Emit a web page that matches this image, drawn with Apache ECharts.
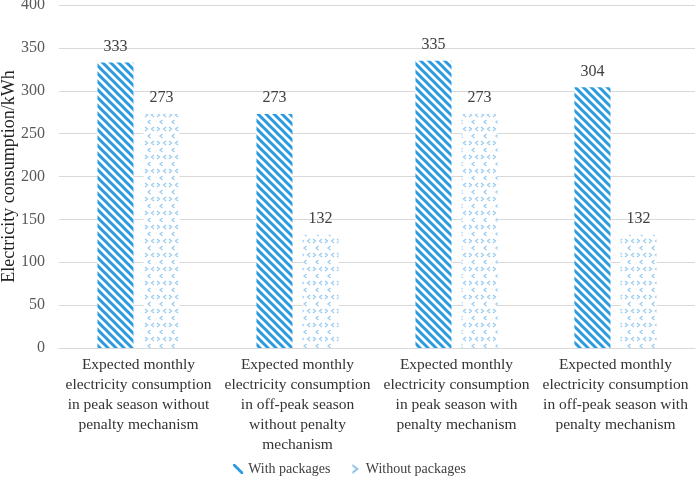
<!DOCTYPE html>
<html>
<head>
<meta charset="utf-8">
<script src="https://cdn.jsdelivr.net/npm/echarts@6/dist/echarts.min.js"></script>
<style>
html,body{margin:0;padding:0;background:#fff;}
#main{width:699px;height:482px;}
</style>
</head>
<body>
<div id="main"></div>
<script>
var categories = [
    'Expected monthly\nelectricity consumption\nin peak season without\npenalty mechanism',
    'Expected monthly\nelectricity consumption\nin off-peak season\nwithout penalty\nmechanism',
    'Expected monthly\nelectricity consumption\nin peak season with\npenalty mechanism',
    'Expected monthly\nelectricity consumption\nin off-peak season with\npenalty mechanism'
];
var withPackages = [333, 273, 335, 304];
var withoutPackages = [273, 132, 273, 132];
var yTicks = [0, 50, 100, 150, 200, 250, 300, 350, 400];

/*斜线填充*/
function stripePattern() {
    var c = document.createElement('canvas');
    c.width = 8; c.height = 8;
    var ctx = c.getContext('2d');
    ctx.fillStyle = '#fff';
    ctx.fillRect(0, 0, 8, 8);
    ctx.strokeStyle = '#2b9ae0';
    ctx.lineWidth = 3;
    ctx.beginPath();
    ctx.moveTo(-2, -2); ctx.lineTo(10, 10);
    ctx.moveTo(-2, 6); ctx.lineTo(2, 10);
    ctx.moveTo(6, -2); ctx.lineTo(10, 2);
    ctx.stroke();
    return c;
}
/*小箭头填充*/
function chevronPattern() {
    var c = document.createElement('canvas');
    c.width = 12; c.height = 14;
    var ctx = c.getContext('2d');
    ctx.fillStyle = '#fff';
    ctx.fillRect(0, 0, 12, 14);
    ctx.strokeStyle = '#95c9ef';
    ctx.lineWidth = 1.2;
    ctx.beginPath();
    ctx.moveTo(1, 1); ctx.lineTo(3.5, 3); ctx.lineTo(1, 5);
    ctx.moveTo(10, 1); ctx.lineTo(7.5, 3); ctx.lineTo(10, 5);
    ctx.moveTo(6.5, 8); ctx.lineTo(4, 10); ctx.lineTo(6.5, 12);
    ctx.stroke();
    return c;
}

var chart = echarts.init(document.getElementById('main'));
var labelStyle = {show: true, position: 'top', distance: 8, fontFamily: 'Liberation Serif', fontSize: 16, color: '#404040'};
var option = {
    animation: false,
    grid: {left: 59, right: 4, top: 5, bottom: 134, outerBoundsMode: 'none', containLabel: false},
    legend: {
        bottom: 1,
        left: 'center',
        itemWidth: 10,
        itemHeight: 10,
        itemGap: 22,
        textStyle: {fontFamily: 'Liberation Serif', fontSize: 14, color: '#404040'},
        data: [
            {name: 'With packages', icon: 'path://M0,0 L2,0 L10,8 L10,10 L8,10 L0,2 Z', itemStyle: {color: '#2b9ae0'}},
            {name: 'Without packages', icon: 'path://M3,2 L7,5 L3,8 L3,6.5 L5,5 L3,3.5 Z', itemStyle: {color: '#8ec5ee'}}
        ]
    },
    xAxis: {
        type: 'category',
        data: categories,
        axisLine: {lineStyle: {color: '#d9d9d9'}},
        axisTick: {show: false},
        axisLabel: {
            interval: 0,
            margin: 7,
            lineHeight: 20,
            verticalAlign: 'top',
            fontFamily: 'Liberation Serif',
            fontSize: 15.5,
            color: '#333'
        }
    },
    yAxis: {
        type: 'value',
        min: yTicks[0],
        max: yTicks[yTicks.length - 1],
        interval: 50,
        name: 'Electricity consumption/kWh',
        nameLocation: 'middle',
        nameGap: 41,
        nameMoveOverlap: false,
        nameTextStyle: {fontFamily: 'Liberation Serif', fontSize: 18, color: '#222'},
        axisLine: {show: false},
        axisTick: {show: false},
        splitLine: {lineStyle: {color: '#d9d9d9'}},
        axisLabel: {fontFamily: 'Liberation Serif', fontSize: 16, color: '#595959', margin: 14}
    },
    series: [
        {
            name: 'With packages',
            type: 'bar',
            barWidth: 36,
            barGap: '28%',
            data: withPackages,
            itemStyle: {color: {image: stripePattern(), repeat: 'repeat'}},
            label: labelStyle
        },
        {
            name: 'Without packages',
            type: 'bar',
            barWidth: 36,
            data: withoutPackages,
            itemStyle: {color: {image: chevronPattern(), repeat: 'repeat'}},
            label: labelStyle
        }
    ]
};
chart.setOption(option);
</script>
</body>
</html>
